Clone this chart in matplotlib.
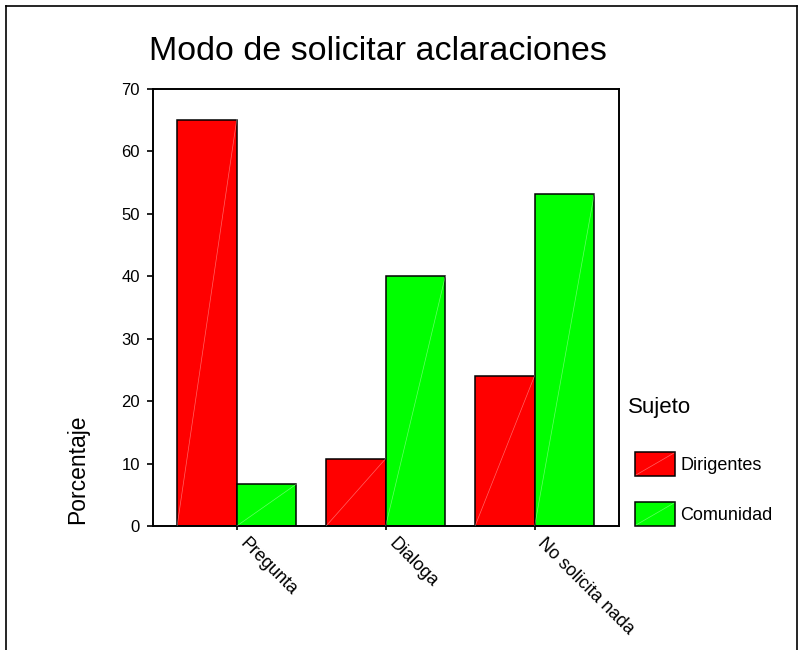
import matplotlib
matplotlib.use("Agg")
import matplotlib.pyplot as plt
from matplotlib.lines import Line2D
from matplotlib.patches import Rectangle
from matplotlib.transforms import ScaledTranslation
import numpy as np

plt.rcParams['font.family'] = ['Liberation Sans', 'DejaVu Sans']

categories = ["Pregunta", "Dialoga", "No solicita nada"]
series_names = ["Dirigentes", "Comunidad"]
dirigentes = [65.1, 10.8, 24.1]
comunidad = [6.7, 40.0, 53.2]
yticks = [0, 10, 20, 30, 40, 50, 60, 70]
colors = ["#FF0000", "#00FF00"]

W, H = 801, 650
fig = plt.figure(figsize=(W / 100, H / 100), dpi=100)

def fx(px):
    return px / W

def fy(py):
    return 1 - py / H

ax = fig.add_axes([fx(153), fy(526), fx(619) - fx(153), fy(89) - fy(526)])

x = np.arange(len(categories))
width = 0.4
for vals, off, col in [(dirigentes, -width / 2, colors[0]), (comunidad, width / 2, colors[1])]:
    bars = ax.bar(x + off, vals, width=width, color=col, edgecolor="black", linewidth=1.1, zorder=2)
    for b in bars:
        x0 = b.get_x()
        ax.plot([x0, x0 + b.get_width()], [0, b.get_height()], color="white",
                lw=0.5, alpha=0.4, zorder=3)

ax.set_xlim(-0.562, 2.566)
ax.set_ylim(0, 70)
ax.set_yticks(yticks)
ax.set_yticklabels([str(t) for t in yticks], fontsize=12)
ax.set_xticks(x)
ax.set_xticklabels([])
# category names hang diagonally just right of each tick
label_tr = ax.get_xaxis_transform() + ScaledTranslation(12 / 100, -9 / 100, fig.dpi_scale_trans)
for xi, name in zip(x, categories):
    ax.text(xi, 0, name, transform=label_tr, fontsize=13, rotation=-45,
            ha="left", va="top", rotation_mode="anchor", clip_on=False)
for s in ax.spines.values():
    s.set_linewidth(1.4)
ax.tick_params(axis="y", direction="out", length=4.5, width=1.2, pad=5)
ax.tick_params(axis="x", direction="out", length=3, width=1.2, pad=4)

fig.text(fx(378), fy(51), "Modo de solicitar aclaraciones", fontsize=24.5,
         ha="center", va="center")
fig.text(fx(78), fy(469), "Porcentaje", fontsize=16.5, rotation=90,
         ha="center", va="center")

# legend
fig.text(fx(628), fy(408), "Sujeto", fontsize=16, ha="left", va="center")
for name, col, ytop in [(series_names[0], colors[0], 452), (series_names[1], colors[1], 502)]:
    r = Rectangle((fx(635), fy(ytop + 24)), fx(40), fy(ytop) - fy(ytop + 24),
                  transform=fig.transFigure, facecolor=col, edgecolor="black", lw=1.1)
    fig.add_artist(r)
    fig.add_artist(Line2D([fx(636), fx(674)], [fy(ytop + 23), fy(ytop + 1)],
                          transform=fig.transFigure, color="white", lw=0.5, alpha=0.4))
    fig.text(fx(680), fy(ytop + 14), name, fontsize=13, ha="left", va="center")

# frame around the chart
frame = dict(transform=fig.transFigure, color="black", lw=1.2)
fig.add_artist(Line2D([fx(6), fx(6)], [fy(6), 0], **frame))
fig.add_artist(Line2D([fx(6), fx(797)], [fy(6), fy(6)], **frame))
fig.add_artist(Line2D([fx(797), fx(797)], [fy(6), 0], **frame))

fig.savefig("out.png", dpi=100)
